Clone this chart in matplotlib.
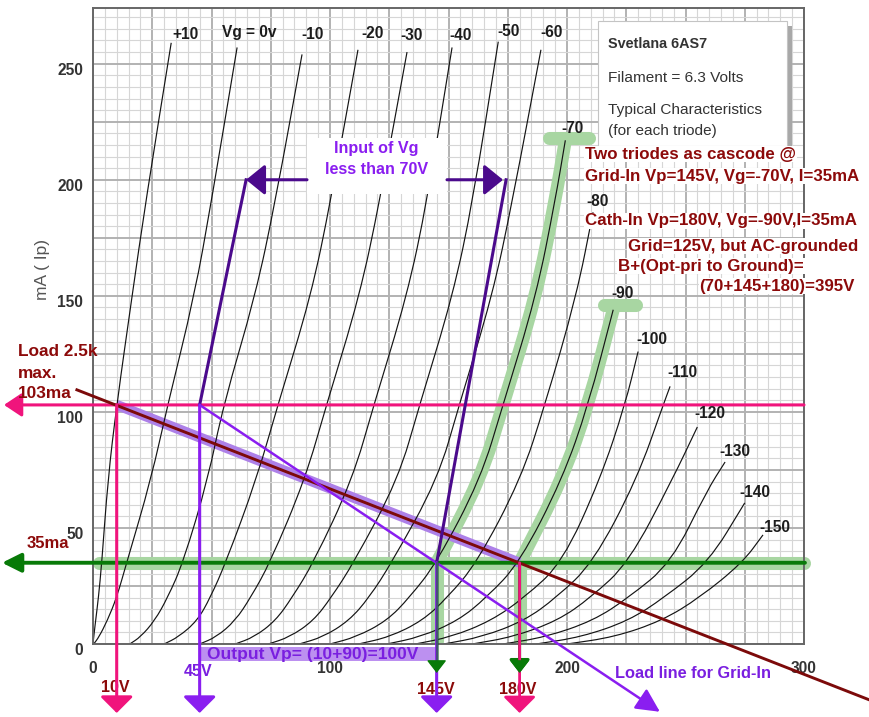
import matplotlib
matplotlib.use("Agg")
import matplotlib.pyplot as plt
from matplotlib import font_manager as fm
from matplotlib.patches import Rectangle, PathPatch
from matplotlib.path import Path
from matplotlib.ticker import MultipleLocator, FuncFormatter
import matplotlib.transforms as mtransforms

# ---------------- data ----------------
grid_labels = ["+10", "Vg = 0v", "-10", "-20", "-30", "-40", "-50", "-60",
               "-70", "-80", "-90", "-100", "-110", "-120", "-130", "-140", "-150"]

ip_std = [0, 3, 10, 20, 35, 71, 103, 150, 191]

vp_p10 = [0.0, 0.3, 1.1, 2.3, 3.7, 6.3, 10.0, 16.5, 22.3, 33.0]
ip_p10 = ip_std + [259]
vp_0 = [0.3, 2.5, 6.0, 10.0, 14.2, 24.5, 31.5, 42.8, 50.0, 60.8]
ip_0 = ip_std + [257]
vp_m10 = [15.5, 20.0, 26.0, 31.5, 38.0, 48.5, 55.0, 68.5, 77.0, 88.2]
ip_m10 = ip_std + [254]
vp_m20 = [30.0, 36.0, 44.0, 49.5, 56.0, 69.0, 78.0, 92.0, 100.3, 111.8]
ip_m20 = ip_std + [256]
vp_m30 = [45.0, 52.0, 60.0, 66.5, 74.7, 89.5, 98.5, 112.5, 121.0, 132.5]
ip_m30 = ip_std + [255]
vp_m40 = [60.0, 68.0, 77.0, 84.0, 93.0, 109.5, 118.5, 132.5, 141.0, 151.5]
ip_m40 = ip_std + [257]
vp_m50 = [74.0, 83.0, 93.0, 100.5, 110.0, 128.8, 137.8, 151.8, 160.3, 171.0]
ip_m50 = ip_std + [259.5]
vp_m60 = [87.0, 97.0, 108.0, 116.5, 126.0, 145.5, 154.5, 168.5, 177.0, 189.0]
ip_m60 = ip_std + [256]
vp_m70 = [100.0, 111.0, 124.0, 133.5, 145.0, 163.5, 173.0, 187.0, 195.0, 199.3]
ip_m70 = ip_std + [217]
vp_m80 = [112.0, 125.0, 139.0, 149.5, 162.0, 180.5, 190.7, 204.0, 211.0]
ip_m80 = [0, 3, 10, 20, 35, 71, 103, 150, 186]
vp_m90 = [124.0, 138.0, 154.0, 166.0, 180.0, 198.0, 209.0, 219.5]
ip_m90 = [0, 3, 10, 20, 35, 71, 103, 144]
vp_m100 = [136.0, 151.0, 168.0, 182.0, 198.0, 214.0, 224.5, 230.0]
ip_m100 = [0, 3, 10, 20, 35, 71, 103, 126]
vp_m110 = [148.0, 164.0, 182.0, 195.5, 211.0, 229.5, 240.6, 243.5]
ip_m110 = [0, 3, 10, 20, 35, 71, 103, 111]
vp_m120 = [160.0, 177.0, 196.0, 210.0, 226.0, 244.5, 255.0]
ip_m120 = [0, 3, 10, 20, 35, 71, 93.5]
vp_m130 = [173.0, 191.0, 211.0, 226.0, 244.0, 259.0, 266.7]
ip_m130 = [0, 3, 10, 20, 35, 66, 78.4]
vp_m140 = [187.0, 206.0, 226.0, 241.0, 259.6, 275.0]
ip_m140 = [0, 3, 10, 20, 35, 60.8]
vp_m150 = [200.0, 220.0, 240.0, 256.0, 274.0, 282.7]
ip_m150 = [0, 3, 10, 20, 35, 47]

x_tick_labels = [0, 100, 200, 300]
y_tick_labels = [0, 50, 100, 150, 200, 250]

# operating points / annotation values
max_current = 103          # mA, pink line
bias_current = 35          # mA, green line
vp_max = 10                # V at max current on load line
vp_input = 45              # V, left end of grid-in swing
vp_grid_in = 145           # V
vp_cath_in = 180           # V
input_level = 200          # mA level of the "Input of Vg" arrows
input_left_vp = 64.6
input_right_vp = 174.3
load_line_vp = [-6.8, 327.4]
load_line_ip = [109.5, -24.0]
grid_load_tip_vp = 239.2
grid_load_tip_ip = -29.2

# ---------------- style ----------------
W, H = 869, 717
names = {f.name for f in fm.fontManager.ttflist}
FAM, S = "Liberation Sans", 1.0
for cand in ["Liberation Sans Narrow", "Arial Narrow"]:
    if cand in names:
        FAM, S = cand, 1.1
        break
plt.rcParams["font.family"] = [FAM, "DejaVu Sans"]
plt.rcParams["font.weight"] = "bold"

PINK = "#F0147C"
VIOLET = "#8A1EF0"
VTEXT = "#7A1FE0"
INDIGO = "#4B0A8C"
MAROON = "#7C0A0A"
DRED = "#8C0A0A"
DGREEN = "#087A08"
LGREEN = "#A8D6A2"
LAV = "#AD80E8"

fig = plt.figure(figsize=(W / 100, H / 100), dpi=100, facecolor="white")
ax = fig.add_axes([93 / W, 1 - 644 / H, 711 / W, 636 / H])
ax.set_xlim(0, 300)
ax.set_ylim(0, 274)


def d(px, py):
    """figure pixel (from top-left) -> data coords via the axes scales"""
    return ax.transData.inverted().transform((px, H - py))


def fp(px, py):
    return (px / W, 1 - py / H)


def smooth_path(xs, ys):
    pts = list(zip(xs, ys))
    verts, codes = [pts[0]], [Path.MOVETO]
    mid = lambda a, b: ((a[0] + b[0]) / 2, (a[1] + b[1]) / 2)
    verts.append(mid(pts[0], pts[1]))
    codes.append(Path.LINETO)
    for i in range(1, len(pts) - 1):
        verts += [pts[i], mid(pts[i], pts[i + 1])]
        codes += [Path.CURVE3, Path.CURVE3]
    verts.append(pts[-1])
    codes.append(Path.LINETO)
    return Path(verts, codes)


# grid
ax.set_axisbelow(True)
ax.xaxis.set_major_locator(MultipleLocator(25))
ax.xaxis.set_minor_locator(MultipleLocator(5))
ax.yaxis.set_major_locator(MultipleLocator(25))
ax.yaxis.set_minor_locator(MultipleLocator(5))
ax.xaxis.set_major_formatter(FuncFormatter(lambda v, _: f"{int(round(v))}" if int(round(v)) in x_tick_labels else ""))
ax.yaxis.set_major_formatter(FuncFormatter(lambda v, _: f"{int(round(v))}" if int(round(v)) in y_tick_labels else ""))
ax.grid(which="minor", color="#d6d6d6", lw=0.8)
ax.grid(which="major", color="#b2b2b2", lw=1.4)
ax.tick_params(which="both", length=0)
ax.tick_params(axis="x", pad=12, labelsize=11.2 * S, labelcolor="#333333")
ax.tick_params(axis="y", pad=7, labelsize=11.2 * S, labelcolor="#333333")
off = mtransforms.ScaledTranslation(0, -5 / 100, fig.dpi_scale_trans)
for lbl in ax.get_yticklabels():
    lbl.set_transform(lbl.get_transform() + off)
for s in ax.spines.values():
    s.set_color("#666666")
    s.set_linewidth(1.4)

fig.text(*fp(42, 270), "mA ( Ip)", rotation=90, ha="center", va="center",
         fontsize=12.5 * S, color="#555555", fontweight="normal")

curves = [(vp_p10, ip_p10), (vp_0, ip_0), (vp_m10, ip_m10), (vp_m20, ip_m20),
          (vp_m30, ip_m30), (vp_m40, ip_m40), (vp_m50, ip_m50), (vp_m60, ip_m60),
          (vp_m70, ip_m70), (vp_m80, ip_m80), (vp_m90, ip_m90), (vp_m100, ip_m100),
          (vp_m110, ip_m110), (vp_m120, ip_m120), (vp_m130, ip_m130),
          (vp_m140, ip_m140), (vp_m150, ip_m150)]
label_off_px = [(14, -8), (12, -15), (11, -20), (15, -16), (5, -17), (9, -12), (10, -10),
                (11, -17), (7, -12), (4, -11), (9, -16), (14, -12), (12, -14), (13, -13),
                (10, -11), (10, -10), (12, -7)]

# ---- green highlights (under the curves)
hl_kw = dict(color=LGREEN, lw=9.4, solid_capstyle="round", solid_joinstyle="round", zorder=1.2)
ax.plot([2.7, 299.8], [bias_current, bias_current], **hl_kw, clip_on=False)
for vp_list, ip_list, vp_op in [(vp_m70, ip_m70, vp_grid_in), (vp_m90, ip_m90, vp_cath_in)]:
    ax.plot([vp_op, vp_op], [1.5, bias_current], **hl_kw)
    hx = [v for v, i in zip(vp_list, ip_list) if i >= bias_current]
    hy = [i for i in ip_list if i >= bias_current]
    ax.add_patch(PathPatch(smooth_path(hx, hy), fill=False, edgecolor=LGREEN, lw=9.4,
                           capstyle="round", joinstyle="round", zorder=1.2))
ax.plot([192.2, 209.1], [218, 218], **hl_kw)
ax.plot([215.8, 229.3], [146, 146], **hl_kw)

# lavender load line highlight
ax.plot([vp_max, vp_cath_in], [max_current, bias_current], color=LAV, lw=7.3,
        solid_capstyle="butt", zorder=1.3)

# ---- characteristic curves
for (vp_list, ip_list), lbl, (dx, dy) in zip(curves, grid_labels, label_off_px):
    ax.add_patch(PathPatch(smooth_path(vp_list, ip_list), fill=False, edgecolor="#141414",
                           lw=0.85, zorder=2))
    ax.annotate(lbl, xy=(vp_list[-1], ip_list[-1]), xytext=(dx / 1.389, -dy / 1.389),
                textcoords="offset points", ha="center", va="center",
                fontsize=11.2 * S, color="#1c1c1c", zorder=6)


def arrow(p0, p1, color, lw, hl, hw, z, alpha=1.0):
    ax.annotate("", xy=p1, xytext=p0, xycoords="data", textcoords="data",
                arrowprops=dict(arrowstyle=f"-|>,head_length={hl / 1.389:.2f},head_width={hw / 1.389:.2f}",
                                color=color, lw=lw, shrinkA=0, shrinkB=0, mutation_scale=1,
                                alpha=alpha),
                annotation_clip=False, zorder=z)


tip_low = d(0, 713)[1]
tip_green = d(0, 673)[1]
green_head_base = d(0, 662)[1]

# ---- horizontal lines with left arrows
arrow((300, max_current), (d(4, 0)[0], max_current), PINK, 2.2, 15, 10, 5)
arrow((300.4, bias_current), (d(2, 0)[0], bias_current), DGREEN, 2.8, 16, 8, 5)

# load line (maroon)
ax.plot(load_line_vp, load_line_ip, color=MAROON, lw=2.1, zorder=5, clip_on=False)

# grid-in load line (violet) with arrow
arrow((vp_input, max_current), (grid_load_tip_vp, grid_load_tip_ip), VIOLET, 1.8, 20, 10, 5)

# vertical arrows
arrow((vp_max, max_current), (vp_max, tip_low), PINK, 2.2, 14, 14, 5.5)
arrow((vp_input, max_current), (vp_input, tip_low), VIOLET, 2.2, 14, 14, 5.5)
arrow((vp_grid_in, bias_current), (vp_grid_in, tip_low), VIOLET, 2.2, 14, 14, 5.2)
ax.plot([vp_grid_in, vp_grid_in], [bias_current, green_head_base], color=DGREEN, lw=2.2,
        alpha=0.5, zorder=5.3, clip_on=False)
arrow((vp_grid_in, green_head_base), (vp_grid_in, tip_green), DGREEN, 1.0, 11, 8.5, 5.3)
arrow((vp_cath_in, bias_current), (vp_cath_in, tip_green), DGREEN, 2.2, 11, 8.5, 5.2)
arrow((vp_cath_in, bias_current), (vp_cath_in, tip_low), PINK, 2.0, 14, 14, 5.5)
arrow((vp_cath_in, green_head_base), (vp_cath_in, tip_green), DGREEN, 1.0, 11, 8.5, 5.6)

# input of Vg lines (indigo)
ax.plot([vp_input, input_left_vp], [max_current, input_level], color=INDIGO, lw=2.2, zorder=5)
ax.plot([input_right_vp, vp_grid_in], [input_level, bias_current], color=INDIGO, lw=2.2, zorder=5)
arrow((d(307, 0)[0], input_level), (input_left_vp, input_level), INDIGO, 2.2, 16, 13, 5)
arrow((d(447, 0)[0], input_level), (input_right_vp - 1.3, input_level), INDIGO, 2.2, 16, 13, 5)

# white box behind "Input of Vg"
x0, y1 = d(307, 138)
x1, y0 = d(447, 194)
ax.add_patch(Rectangle((x0, y0), x1 - x0, y1 - y0, facecolor="white", edgecolor="none", zorder=4))
fig.text(*fp(376, 149), "Input of Vg", ha="center", va="center", fontsize=11.6 * S, color=VIOLET, zorder=8)
fig.text(*fp(377, 170), "less than 70V", ha="center", va="center", fontsize=11.6 * S, color=VIOLET, zorder=8)

# output bar under the axis
by0 = d(0, 661)[1]
by1 = d(0, 647)[1]
ax.add_patch(Rectangle((vp_input, by0), vp_grid_in - vp_input, by1 - by0, facecolor="#BC90F0",
                       edgecolor="none", zorder=4, clip_on=False))
ax.text(*fp(207, 654), "Output Vp= (10+90)=100V", ha="left", va="center", fontsize=12.5 * S,
        color=VTEXT, zorder=4.5, transform=fig.transFigure, clip_on=False)

# info box top right
bx0, by_top = d(598, 21)
bx1, by_bot = d(787, 146)
sx, sy = d(603, 26)
ax.add_patch(Rectangle((sx, by_bot - (by_top - sy)), bx1 - bx0, by_top - by_bot,
                       facecolor="#a8a8a8", edgecolor="none", zorder=4))
ax.add_patch(Rectangle((bx0, by_bot), bx1 - bx0, by_top - by_bot, facecolor="white",
                       edgecolor="#c4c4c4", lw=0.8, zorder=4.1))
fig.text(*fp(608, 44), "Svetlana 6AS7", ha="left", va="center", fontsize=10.4 * S, color="#333333", zorder=8)
for txt, yy in [("Filament = 6.3 Volts", 78), ("Typical Characteristics", 110), ("(for each triode)", 131)]:
    fig.text(*fp(608, yy), txt, ha="left", va="center", fontsize=11.1 * S, color="#333333",
             fontweight="normal", zorder=8)

# red annotation text
bb = dict(facecolor="white", edgecolor="none", pad=0.6)
for txt, xx, yy, ha in [("Two triodes as cascode @", 585, 154, "left"),
                        ("Grid-In Vp=145V, Vg=-70V, I=35mA", 585, 176, "left"),
                        ("Cath-In Vp=180V, Vg=-90V,I=35mA", 585, 221, "left"),
                        ("Grid=125V, but AC-grounded", 858, 246, "right"),
                        ("B+(Opt-pri to Ground)=", 618, 266, "left"),
                        ("(70+145+180)=395V", 855, 286, "right")]:
    fig.text(*fp(xx, yy), txt, ha=ha, va="center", fontsize=12.2 * S, color=DRED, bbox=bb, zorder=9)

# left texts
for txt, yy in [("Load 2.5k", 352), ("max.", 373), ("103ma", 394)]:
    fig.text(*fp(18, yy), txt, ha="left", va="center", fontsize=12.4 * S, color=DRED, zorder=8)
fig.text(*fp(48, 543), "35ma", ha="center", va="center", fontsize=12 * S, color=DRED, zorder=8)

# bottom labels (drawn below the arrow lines)
for txt, xx, yy, col in [("10V", 115, 687, DRED), ("45V", 198, 672, VTEXT),
                         ("145V", 436, 690, DRED), ("180V", 518, 690, DRED)]:
    ax.text(*fp(xx, yy), txt, ha="center", va="center", fontsize=11.5 * S, color=col,
            zorder=4.9, transform=fig.transFigure, clip_on=False)
fig.text(*fp(693, 673), "Load line for Grid-In", ha="center", va="center", fontsize=11.8 * S,
         color=VTEXT, zorder=8)

fig.savefig("out.png", dpi=100, facecolor="white")
